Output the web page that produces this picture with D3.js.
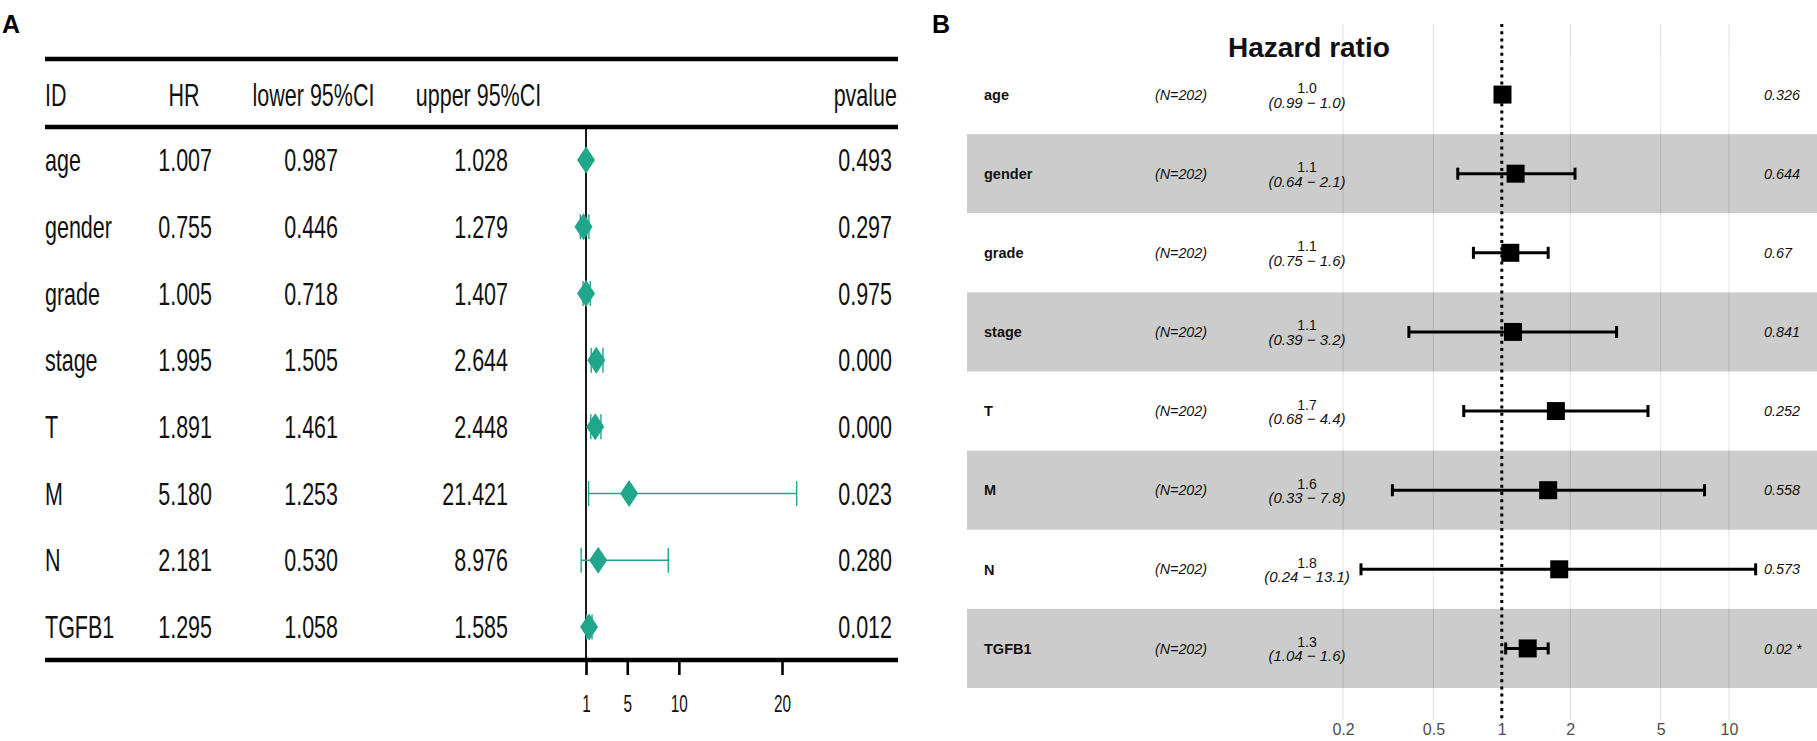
<!DOCTYPE html>
<html>
<head>
<meta charset="utf-8">
<script src="https://cdn.jsdelivr.net/npm/d3@7"></script>
<style>
  body { margin: 0; background: #fff; }
  svg { display: block; font-family: "Liberation Sans", Arial, sans-serif; }
</style>
</head>
<body>
<svg id="chart" width="1817" height="741"></svg>
<script>
// ---- panel A : forestplot table ----
const ids = ["age", "gender", "grade", "stage", "T", "M", "N", "TGFB1"];
const hr = [1.007, 0.755, 1.005, 1.995, 1.891, 5.180, 2.181, 1.295];
const lower = [0.987, 0.446, 0.718, 1.505, 1.461, 1.253, 0.530, 1.058];
const upper = [1.028, 1.279, 1.407, 2.644, 2.448, 21.421, 8.976, 1.585];
const pvalues = ["0.493", "0.297", "0.975", "0.000", "0.000", "0.023", "0.280", "0.012"];
const ticksA = [1, 5, 10, 20];

// ---- panel B : ggforest ----
const countsB = [202, 202, 202, 202, 202, 202, 202, 202];
const hrB = [1.007, 1.15, 1.09, 1.12, 1.73, 1.6, 1.79, 1.30];
const hrLabelB = ["1.0", "1.1", "1.1", "1.1", "1.7", "1.6", "1.8", "1.3"];
const lowB = [0.99, 0.64, 0.75, 0.39, 0.68, 0.33, 0.24, 1.04];
const highB = [1.02, 2.1, 1.6, 3.2, 4.4, 7.8, 13.1, 1.6];
const lowLabelB = ["0.99", "0.64", "0.75", "0.39", "0.68", "0.33", "0.24", "1.04"];
const highLabelB = ["1.0", "2.1", "1.6", "3.2", "4.4", "7.8", "13.1", "1.6"];
const pLabelB = ["0.326", "0.644", "0.67", "0.841", "0.252", "0.558", "0.573", "0.02 *"];
const ticksB = [0.2, 0.5, 1, 2, 5, 10];

const teal = "#1fa68b";
const svg = d3.select("#chart");

// condensed text: font drawn at size then stretched vertically
function ntext(parent, x, y, str, size, sy, anchor) {
	return parent.append("text")
		.attr("transform", `translate(${x},${y}) scale(1,${sy})`)
		.attr("dy", "0.36em")
		.attr("text-anchor", anchor || "start")
		.style("font-size", size + "px")
		.attr("fill", "#111")
		.text(str);
}

// panel letters
svg.append("text").attr("x", 2).attr("y", 33).style("font-size", "25px").style("font-weight", "bold").text("A");
svg.append("text").attr("x", 932).attr("y", 33).style("font-size", "25px").style("font-weight", "bold").text("B");

/* ================= panel A ================= */
const gA = svg.append("g");
const xA = d3.scaleLinear().domain([1, 20]).range([586, 782]);
const yA = d3.scaleLinear().domain([0, ids.length - 1]).range([160, 627]);
const fs = 21.5, sy = 1.43;

// thick rules
[59, 127, 660].forEach(y => {
	gA.append("line").attr("x1", 45).attr("x2", 898).attr("y1", y).attr("y2", y)
		.attr("stroke", "#000").attr("stroke-width", 4.5);
});

// header
ntext(gA, 45, 95, "ID", fs, sy, "start");
ntext(gA, 184, 95, "HR", fs, sy, "middle");
ntext(gA, 313.5, 95, "lower 95%CI", fs, sy, "middle");
ntext(gA, 478.5, 95, "upper 95%CI", fs, sy, "middle");
ntext(gA, 897, 95, "pvalue", fs, sy, "end");

// table rows
ids.forEach((id, i) => {
	const y = yA(i);
	ntext(gA, 45, y, id, fs, sy, "start");
	ntext(gA, 212, y, hr[i].toFixed(3), fs, sy, "end");
	ntext(gA, 338, y, lower[i].toFixed(3), fs, sy, "end");
	ntext(gA, 508, y, upper[i].toFixed(3), fs, sy, "end");
	ntext(gA, 892, y, pvalues[i], fs, sy, "end");
});

// zero line at HR = 1
gA.append("line").attr("x1", xA(1)).attr("x2", xA(1)).attr("y1", 127).attr("y2", 660)
	.attr("stroke", "#000").attr("stroke-width", 1.8);

// CI whiskers
const ciA = gA.append("g").attr("stroke", teal).attr("stroke-width", 1.4);
ids.forEach((id, i) => {
	const y = yA(i);
	ciA.append("line").attr("x1", xA(lower[i])).attr("x2", xA(upper[i])).attr("y1", y).attr("y2", y);
	[lower[i], upper[i]].forEach(v => {
		ciA.append("line").attr("x1", xA(v)).attr("x2", xA(v)).attr("y1", y - 12.5).attr("y2", y + 12.5);
	});
});
// diamonds
gA.append("g").selectAll("path")
	.data(ids)
	.join("path")
	.attr("fill", teal)
	.attr("d", (d, i) => {
		const cx = xA(hr[i]), cy = yA(i);
		return `M${cx - 9},${cy}L${cx},${cy - 13.5}L${cx + 9},${cy}L${cx},${cy + 13.5}Z`;
	});

// x axis A
const axA = gA.append("g").attr("transform", "translate(0,660)")
	.call(d3.axisBottom(xA).tickValues(ticksA).tickSize(15).tickFormat(d3.format("d")));
axA.select(".domain").remove();
axA.selectAll(".tick line").attr("stroke", "#000").attr("stroke-width", 2.6);
axA.selectAll(".tick text")
	.attr("y", 0).attr("dy", "0.36em")
	.attr("transform", "translate(0,43) scale(1,1.55)")
	.attr("fill", "#111")
	.style("font-size", "15.3px")
	.style("font-family", "Liberation Sans, Arial, sans-serif");

/* ================= panel B ================= */
const gB = svg.append("g");
const xB = d3.scaleLog().domain([0.2, 10]).range([1343, 1729]);
const yB = d3.scaleBand().domain(ids).range([55, 688]);
const rowC = id => yB(id) + yB.bandwidth() / 2;
const gridTop = 24, gridBottom = 720;

// grid lines
gB.append("g").selectAll("line")
	.data(ticksB)
	.join("line")
	.attr("x1", d => xB(d)).attr("x2", d => xB(d))
	.attr("y1", gridTop).attr("y2", gridBottom)
	.attr("stroke", "#e2e2e2").attr("stroke-width", 1.1);

// alternating bands
gB.append("g").selectAll("rect")
	.data(ids)
	.join("rect")
	.attr("x", 967).attr("width", 1817 - 967)
	.attr("y", d => yB(d)).attr("height", yB.bandwidth())
	.attr("fill", (d, i) => i % 2 ? "#000" : "#fff")
	.attr("fill-opacity", 0.2);

// reference line
gB.append("line").attr("x1", xB(1)).attr("x2", xB(1)).attr("y1", gridTop).attr("y2", gridBottom)
	.attr("stroke", "#000").attr("stroke-width", 3).attr("stroke-dasharray", "3,4.2");

// title
gB.append("text").attr("x", 1228).attr("y", 57)
	.style("font-size", "28px").style("font-weight", "bold").attr("fill", "#111")
	.text("Hazard ratio");

// annotations
ids.forEach((id, i) => {
	const y = rowC(id);
	gB.append("text").attr("x", 984).attr("y", y).attr("dy", "0.36em")
		.style("font-size", "14.5px").style("font-weight", "bold").attr("fill", "#111").text(id);
	gB.append("text").attr("x", 1181).attr("y", y).attr("dy", "0.36em").attr("text-anchor", "middle")
		.style("font-size", "14.3px").style("font-style", "italic").attr("fill", "#111").text(`(N=${countsB[i]})`);
	gB.append("text").attr("x", 1307).attr("y", y - 1.5).attr("text-anchor", "middle")
		.style("font-size", "14px").attr("fill", "#111").text(hrLabelB[i]);
	gB.append("text").attr("x", 1307).attr("y", y + 13).attr("text-anchor", "middle")
		.style("font-size", "15px").style("font-style", "italic").attr("fill", "#111")
		.text(`(${lowLabelB[i]} \u2212 ${highLabelB[i]})`);
	gB.append("text").attr("x", 1764).attr("y", y).attr("dy", "0.36em")
		.style("font-size", "14.4px").style("font-style", "italic").attr("fill", "#111").text(pLabelB[i]);
});

// error bars + boxes
const ciB = gB.append("g").attr("stroke", "#000").attr("stroke-width", 3);
ids.forEach((id, i) => {
	const y = rowC(id);
	ciB.append("line").attr("x1", xB(lowB[i])).attr("x2", xB(highB[i])).attr("y1", y).attr("y2", y);
	[lowB[i], highB[i]].forEach(v => {
		ciB.append("line").attr("x1", xB(v)).attr("x2", xB(v)).attr("y1", y - 6).attr("y2", y + 6);
	});
});
gB.append("g").selectAll("rect")
	.data(ids)
	.join("rect")
	.attr("x", (d, i) => xB(hrB[i]) - 9).attr("y", d => rowC(d) - 9)
	.attr("width", 18).attr("height", 18)
	.attr("fill", "#000");

// x axis B
const axB = gB.append("g").attr("transform", `translate(0,${gridBottom})`)
	.call(d3.axisBottom(xB).tickValues(ticksB).tickSize(0).tickFormat(d => String(d)));
axB.select(".domain").remove();
axB.selectAll(".tick text")
	.attr("y", 9).attr("dy", "0.36em")
	.attr("fill", "#4d4d4d")
	.style("font-size", "16px")
	.style("font-family", "Liberation Sans, Arial, sans-serif");
</script>
</body>
</html>
